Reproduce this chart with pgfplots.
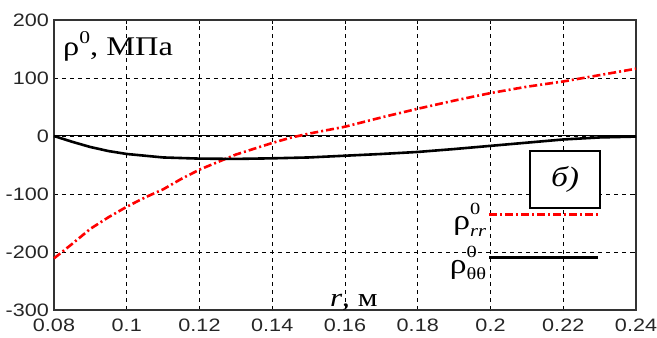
\documentclass[border=0pt]{standalone}
\usepackage{fontspec}
\setmainfont[FakeStretch=1.2]{Liberation Sans}
\newfontfamily\srf[FakeStretch=1.2]{Liberation Serif}
\usepackage{pgfplots}
\usetikzlibrary{calc}
\pgfplotsset{compat=1.18}
\pgfplotstableread{
x y
0.08 -211
0.085 -186
0.09 -160
0.095 -140
0.10 -122
0.105 -106
0.11 -92
0.115 -74
0.12 -58
0.125 -45
0.13 -32
0.135 -22
0.14 -12
0.145 -3
0.15 4
0.155 10
0.16 16
0.17 32
0.18 47
0.19 61
0.20 74
0.21 85
0.22 94
0.23 105
0.24 116
}\rrdata
\pgfplotstableread{
x y
0.08 0
0.085 -10
0.09 -19
0.095 -26
0.10 -31
0.105 -34
0.11 -37
0.115 -38
0.12 -39
0.13 -39.5
0.14 -38.5
0.15 -37
0.16 -34
0.17 -31
0.18 -27.5
0.19 -22.5
0.20 -17
0.21 -11.5
0.22 -6
0.23 -2.5
0.24 -1
}\ttdata
\newcommand{\rhosub}[1]{\srf ρ\rlap{\raisebox{0.55em}{\fontsize{17}{17}\selectfont 0}}\raisebox{-0.22em}{\fontsize{17}{17}\selectfont #1}}
\begin{document}
\begin{tikzpicture}
\begin{axis}[
  name=ax,
  scale only axis,
  width=582pt, height=290pt,
  xmin=0.08, xmax=0.24, ymin=-300, ymax=200,
  xtick={0.08,0.1,0.12,0.14,0.16,0.18,0.2,0.22,0.24},
  xticklabels={0.08,0.1,0.12,0.14,0.16,0.18,0.2,0.22,0.24},
  ytick={-300,-200,-100,0,100,200},
  yticklabels={-300,-200,-100,0,100,200},
  tick label style={font=\fontsize{18}{20}\selectfont, text=black!85, inner sep=1pt},
  xticklabel style={yshift=-8pt},
  yticklabel style={xshift=-4pt, yshift=0pt},
  axis line style={line width=1.3pt, black!80},
  tick style={black, line width=0.8pt},
  major tick length=4pt,
  tick align=inside,
  grid=major,
  major grid style={dashed, black, line width=0.9pt, dash pattern=on 4pt off 4pt},
  extra y ticks={0},
  extra y tick labels={},
  extra y tick style={grid=major, major grid style={solid, black, line width=1pt}},
  legend plot pos=right,
  legend cell align=right,
  legend style={draw=none, fill=none, inner sep=0pt, at={(0.938,0.245)}, anchor=east,
    font=\fontsize{28}{30}\selectfont, row sep=11pt,
    nodes={inner sep=2pt}},
  legend image code/.code={\draw[#1] (0pt,0.28em) -- (109pt,0.28em);},
  clip=false,
]
\addplot[red, line width=2.6pt, dash pattern=on 8pt off 3pt on 2pt off 3pt] table[x=x,y=y] {\rrdata};
\addlegendentry{\rhosub{\itshape rr}}
\addplot[black, line width=2.6pt] table[x=x,y=y] {\ttdata};
\addlegendentry{\rhosub{θθ}}
\node[draw=black, line width=1.5pt, fill=white, minimum width=70pt, minimum height=57pt, inner sep=0pt,
  font=\srf\itshape\fontsize{28}{30}\selectfont] at (axis cs:0.2205,-75.4) {б)};
\node[anchor=base west, inner sep=0pt, font=\srf\fontsize{27}{29}\selectfont] at (axis description cs:0.0155,0.879)
  {ρ\raisebox{0.42em}{\fontsize{18}{18}\selectfont 0}, МПа};
\node[anchor=base west, inner sep=0pt, font=\srf\fontsize{26}{28}\selectfont] at (axis description cs:0.474,0.011)
  {\textit{r}, м};
\end{axis}
\pgfresetboundingbox
\path ($(ax.south west)+(-54pt,-28pt)$) rectangle ($(ax.north east)+(21pt,20pt)$);
\end{tikzpicture}
\end{document}
